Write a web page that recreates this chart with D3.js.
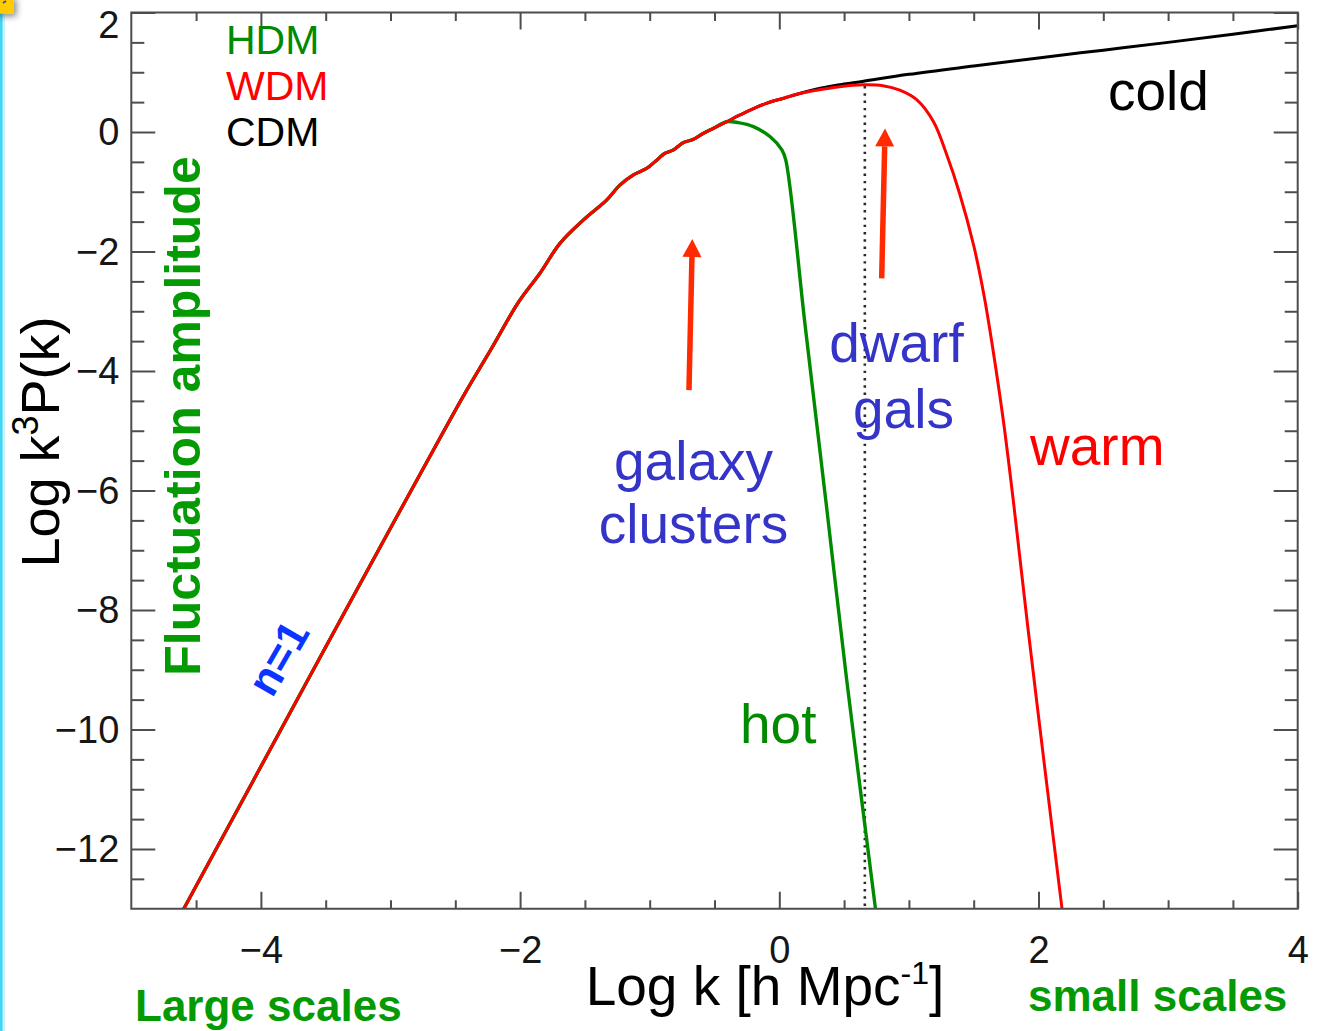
<!DOCTYPE html>
<html>
<head>
<meta charset="utf-8">
<script src="https://cdn.jsdelivr.net/npm/d3@7"></script>
<style>
  html, body { margin: 0; padding: 0; background: #fff; }
  svg { display: block; }
  text { font-family: "Liberation Sans", Arial, Helvetica, sans-serif; }
</style>
</head>
<body>
<svg id="chart" width="1321" height="1031"></svg>
<script>
// Log k [h/Mpc] and Log k^3 P(k) for the three dark-matter models
const cdmLogK = [-4.62, -4.0, -3.5, -3.0, -2.6, -2.43, -2.22, -2.01, -1.847, -1.692, -1.512, -1.332,
  -1.229, -1.127, -1.023, -0.959, -0.882, -0.818, -0.741, -0.664, -0.586, -0.509, -0.406, -0.303,
  -0.10, 0.04, 0.15, 0.30, 0.45, 0.65, 1.0, 1.5, 2.0, 2.5, 3.0, 3.5, 4.0];
const cdmLogP = [-13.1, -10.62, -8.62, -6.63, -5.05, -4.39, -3.62, -2.84, -2.365, -1.863, -1.473, -1.138,
  -0.887, -0.720, -0.608, -0.497, -0.357, -0.301, -0.179, -0.123, -0.022, 0.062, 0.172, 0.285,
  0.48, 0.57, 0.64, 0.725, 0.785, 0.85, 0.965, 1.105, 1.24, 1.37, 1.50, 1.635, 1.78];

const wdmLogK = [-4.62, -4.0, -3.5, -3.0, -2.6, -2.43, -2.22, -2.01, -1.847, -1.692, -1.512, -1.332,
  -1.229, -1.127, -1.023, -0.959, -0.882, -0.818, -0.741, -0.664, -0.586, -0.509, -0.406, -0.303,
  -0.10, 0.04, 0.15, 0.29, 0.45, 0.65, 0.80, 0.93, 1.06, 1.19, 1.29, 1.39, 1.50, 1.58, 1.65, 1.73,
  1.81, 1.92, 2.06, 2.19];
const wdmLogP = [-13.1, -10.62, -8.62, -6.63, -5.05, -4.39, -3.62, -2.84, -2.365, -1.863, -1.473, -1.138,
  -0.887, -0.720, -0.608, -0.497, -0.357, -0.301, -0.179, -0.123, -0.022, 0.062, 0.172, 0.285,
  0.48, 0.57, 0.64, 0.70, 0.755, 0.79, 0.775, 0.70, 0.54, 0.17, -0.37, -1.02, -1.90, -2.74, -3.66, -4.85,
  -6.25, -8.33, -10.85, -13.15];

const hdmLogK = [-4.62, -4.0, -3.5, -3.0, -2.6, -2.43, -2.22, -2.01, -1.847, -1.692, -1.512, -1.332,
  -1.229, -1.127, -1.023, -0.959, -0.882, -0.818, -0.741, -0.664, -0.586, -0.509, -0.406, -0.316,
  -0.20, -0.07, 0.02, 0.05, 0.20, 0.366, 0.52, 0.745];
const hdmLogP = [-13.1, -10.62, -8.62, -6.63, -5.05, -4.39, -3.62, -2.84, -2.365, -1.863, -1.473, -1.138,
  -0.887, -0.720, -0.608, -0.497, -0.357, -0.301, -0.179, -0.123, -0.022, 0.062, 0.172, 0.156,
  0.09, -0.08, -0.30, -0.47, -3.25, -6.30, -9.17, -13.05];

// free-streaming cutoff marker for the warm model
const cutoffLogK = 0.66;
const cutoffLogP = 0.77;

const xTickValues = [-4, -2, 0, 2, 4];
const yTickValues = [-12, -10, -8, -6, -4, -2, 0, 2];
const legendLabels = ["HDM", "WDM", "CDM"];

// ---------------------------------------------------------------
const svg = d3.select("#chart");
const W = 1321, H = 1031;
const plot = { left: 131.3, right: 1297.7, top: 12.5, bottom: 908.75 };

const x = d3.scaleLinear().domain([-5, 4]).range([plot.left, plot.right]);
const y = d3.scaleLinear().domain([-13, 2]).range([plot.bottom, plot.top]);

const col = {
  axis: "#4d4d4d", label: "#161616",
  cdm: "#000000", wdm: "#ff0000", hdm: "#008a00",
  green: "#008a00", boldGreen: "#049a04",
  blue: "#3434c8", nblue: "#0a34ff", arrow: "#ff2a00"
};

const defs = svg.append("defs");
defs.append("clipPath").attr("id", "plotClip")
  .append("rect")
  .attr("x", plot.left).attr("y", plot.top)
  .attr("width", plot.right - plot.left).attr("height", plot.bottom - plot.top);
const sh = defs.append("filter").attr("id", "shadow")
  .attr("x", "-50%").attr("y", "-50%").attr("width", "250%").attr("height", "250%");
sh.append("feDropShadow").attr("dx", 3).attr("dy", 3).attr("stdDeviation", 3)
  .attr("flood-color", "#000").attr("flood-opacity", 0.45);

svg.append("rect").attr("width", W).attr("height", H).attr("fill", "#fff");

// slide frame edge on the left and the yellow corner tab
svg.append("rect").attr("x", 0).attr("y", 0).attr("width", 5).attr("height", H).attr("fill", "#c9f3fc");
svg.append("rect").attr("x", 0).attr("y", 0).attr("width", 2.5).attr("height", H).attr("fill", "#3fd6f6");
svg.append("rect").attr("x", -4).attr("y", -4).attr("width", 17.5).attr("height", 17.5)
  .attr("fill", "#ffcc00").attr("filter", "url(#shadow)");
svg.append("path").attr("d", "M3,3 L6,1").attr("stroke", "#4040c0").attr("stroke-width", 2);

// ---------------- axes ----------------
const fmt = d3.format("d");
const xMinor = d3.range(-4.5, 4, 0.5).filter(v => !xTickValues.includes(v));
const yMinor = d3.range(-12.5, 2, 0.5).filter(v => !yTickValues.includes(v));

function styleAxis(g) {
  g.select(".domain").remove();
  g.selectAll(".tick line").attr("stroke", col.axis).attr("stroke-width", 2);
  g.selectAll(".tick text").attr("fill", col.label).attr("font-size", 38)
    .attr("font-family", "'Liberation Sans', Arial, sans-serif");
}

const axes = svg.append("g");
// bottom
axes.append("g").attr("transform", `translate(0,${plot.bottom})`)
  .call(d3.axisBottom(x).tickValues(xTickValues).tickSize(-17).tickPadding(27).tickFormat(fmt))
  .call(styleAxis);
axes.append("g").attr("transform", `translate(0,${plot.bottom})`)
  .call(d3.axisBottom(x).tickValues(xMinor).tickSize(-8.5).tickFormat(""))
  .call(styleAxis);
// top
axes.append("g").attr("transform", `translate(0,${plot.top})`)
  .call(d3.axisTop(x).tickValues(xTickValues).tickSize(-17).tickFormat(""))
  .call(styleAxis);
axes.append("g").attr("transform", `translate(0,${plot.top})`)
  .call(d3.axisTop(x).tickValues(xMinor).tickSize(-8.5).tickFormat(""))
  .call(styleAxis);
// left
const leftAxis = axes.append("g").attr("transform", `translate(${plot.left},0)`)
  .call(d3.axisLeft(y).tickValues(yTickValues).tickSize(-24).tickPadding(12).tickFormat(fmt))
  .call(styleAxis);
leftAxis.selectAll(".tick text").attr("dy", d => d === 2 ? "0.66em" : "0.34em");
axes.append("g").attr("transform", `translate(${plot.left},0)`)
  .call(d3.axisLeft(y).tickValues(yMinor).tickSize(-13).tickFormat(""))
  .call(styleAxis);
// right
axes.append("g").attr("transform", `translate(${plot.right},0)`)
  .call(d3.axisRight(y).tickValues(yTickValues).tickSize(-24).tickFormat(""))
  .call(styleAxis);
axes.append("g").attr("transform", `translate(${plot.right},0)`)
  .call(d3.axisRight(y).tickValues(yMinor).tickSize(-13).tickFormat(""))
  .call(styleAxis);

// ---------------- curves ----------------
const line = d3.line().x(d => x(d[0])).y(d => y(d[1])).curve(d3.curveCatmullRom.alpha(0.5));
const curves = svg.append("g").attr("clip-path", "url(#plotClip)");

// dotted cutoff line
curves.append("line")
  .attr("x1", x(cutoffLogK)).attr("x2", x(cutoffLogK))
  .attr("y1", y(cutoffLogP)).attr("y2", y(-13))
  .attr("stroke", "#2a2a2a").attr("stroke-width", 2.6).attr("stroke-dasharray", "2.4 4.9");

const series = [
  { k: cdmLogK, p: cdmLogP, color: col.cdm, w: 3 },
  { k: hdmLogK, p: hdmLogP, color: col.hdm, w: 3.4 },
  { k: wdmLogK, p: wdmLogP, color: col.wdm, w: 3 }
];
series.forEach(s => {
  curves.append("path")
    .datum(d3.zip(s.k, s.p))
    .attr("d", line)
    .attr("fill", "none")
    .attr("stroke", s.color)
    .attr("stroke-width", s.w)
    .attr("stroke-linejoin", "round");
});

// frame
svg.append("rect")
  .attr("x", plot.left).attr("y", plot.top)
  .attr("width", plot.right - plot.left).attr("height", plot.bottom - plot.top)
  .attr("fill", "none").attr("stroke", col.axis).attr("stroke-width", 2);

// ---------------- arrows ----------------
function arrow(k0, p0, k1, p1) {
  const x0 = x(k0), y0 = y(p0), x1 = x(k1), y1 = y(p1);
  const len = Math.hypot(x1 - x0, y1 - y0);
  const ux = (x1 - x0) / len, uy = (y1 - y0) / len;
  const headL = 18, headW = 9.5;
  const bx = x1 - ux * headL, by = y1 - uy * headL;
  svg.append("line").attr("x1", x0).attr("y1", y0).attr("x2", bx).attr("y2", by)
    .attr("stroke", col.arrow).attr("stroke-width", 5.5);
  svg.append("path")
    .attr("d", `M${x1},${y1} L${bx - uy * headW},${by + ux * headW} L${bx + uy * headW},${by - ux * headW} Z`)
    .attr("fill", col.arrow);
}
arrow(-0.697, -4.32, -0.671, -1.79);
arrow(0.79, -2.45, 0.816, 0.06);

// ---------------- text ----------------
function label(k, p, txt, color, size, anchor, weight) {
  return svg.append("text")
    .attr("x", x(k)).attr("y", y(p))
    .attr("fill", color).attr("font-size", size)
    .attr("text-anchor", anchor || "start")
    .attr("font-weight", weight || "normal")
    .text(txt);
}
label(2.536, 0.368, "cold", col.cdm, 55);
label(1.935, -5.573, "warm", col.wdm, 55);
label(-0.303, -10.226, "hot", col.green, 55);
label(-0.662, -5.824, "galaxy", col.blue, 55, "middle");
label(-0.662, -6.879, "clusters", col.blue, 55, "middle");
label(0.904, -3.849, "dwarf", col.blue, 55, "middle");
label(0.958, -4.954, "gals", col.blue, 55, "middle");

// n=1 slope label along the primordial tilt
svg.append("text")
  .attr("transform", `translate(${x(-3.868)},${y(-8.80)}) rotate(-60)`)
  .attr("text-anchor", "middle").attr("dominant-baseline", "central")
  .attr("fill", col.nblue).attr("font-size", 44).attr("font-weight", "bold")
  .text("n=1");

// legend: stacked model names
const legendColors = [col.hdm, col.wdm, col.cdm];
svg.append("g").selectAll("text").data(legendLabels).join("text")
  .attr("x", 226).attr("y", (d, i) => 54 + i * 46)
  .attr("font-size", 41)
  .attr("fill", (d, i) => legendColors[i])
  .text(d => d);

// axis titles
const yTitle = svg.append("text")
  .attr("transform", "translate(59,442) rotate(-90)")
  .attr("text-anchor", "middle").attr("font-size", 54).attr("fill", "#000");
yTitle.append("tspan").text("Log k");
yTitle.append("tspan").attr("font-size", 36).attr("dy", -21).text("3");
yTitle.append("tspan").attr("dy", 21).text("P(k)");

svg.append("text")
  .attr("transform", "translate(200,416) rotate(-90)")
  .attr("text-anchor", "middle").attr("font-size", 50).attr("font-weight", "bold")
  .attr("fill", col.boldGreen).text("Fluctuation amplitude");

const xTitle = svg.append("text")
  .attr("x", 765).attr("y", 1005)
  .attr("text-anchor", "middle").attr("font-size", 55).attr("fill", "#000");
xTitle.append("tspan").text("Log k [h Mpc");
xTitle.append("tspan").attr("font-size", 32).attr("dy", -21).text("-1");
xTitle.append("tspan").attr("dy", 21).text("]");

svg.append("text").attr("x", 135).attr("y", 1021)
  .attr("font-size", 44).attr("font-weight", "bold").attr("fill", col.boldGreen)
  .text("Large scales");
svg.append("text").attr("x", 1028).attr("y", 1011)
  .attr("font-size", 44).attr("font-weight", "bold").attr("fill", col.boldGreen)
  .text("small scales");
</script>
</body>
</html>
